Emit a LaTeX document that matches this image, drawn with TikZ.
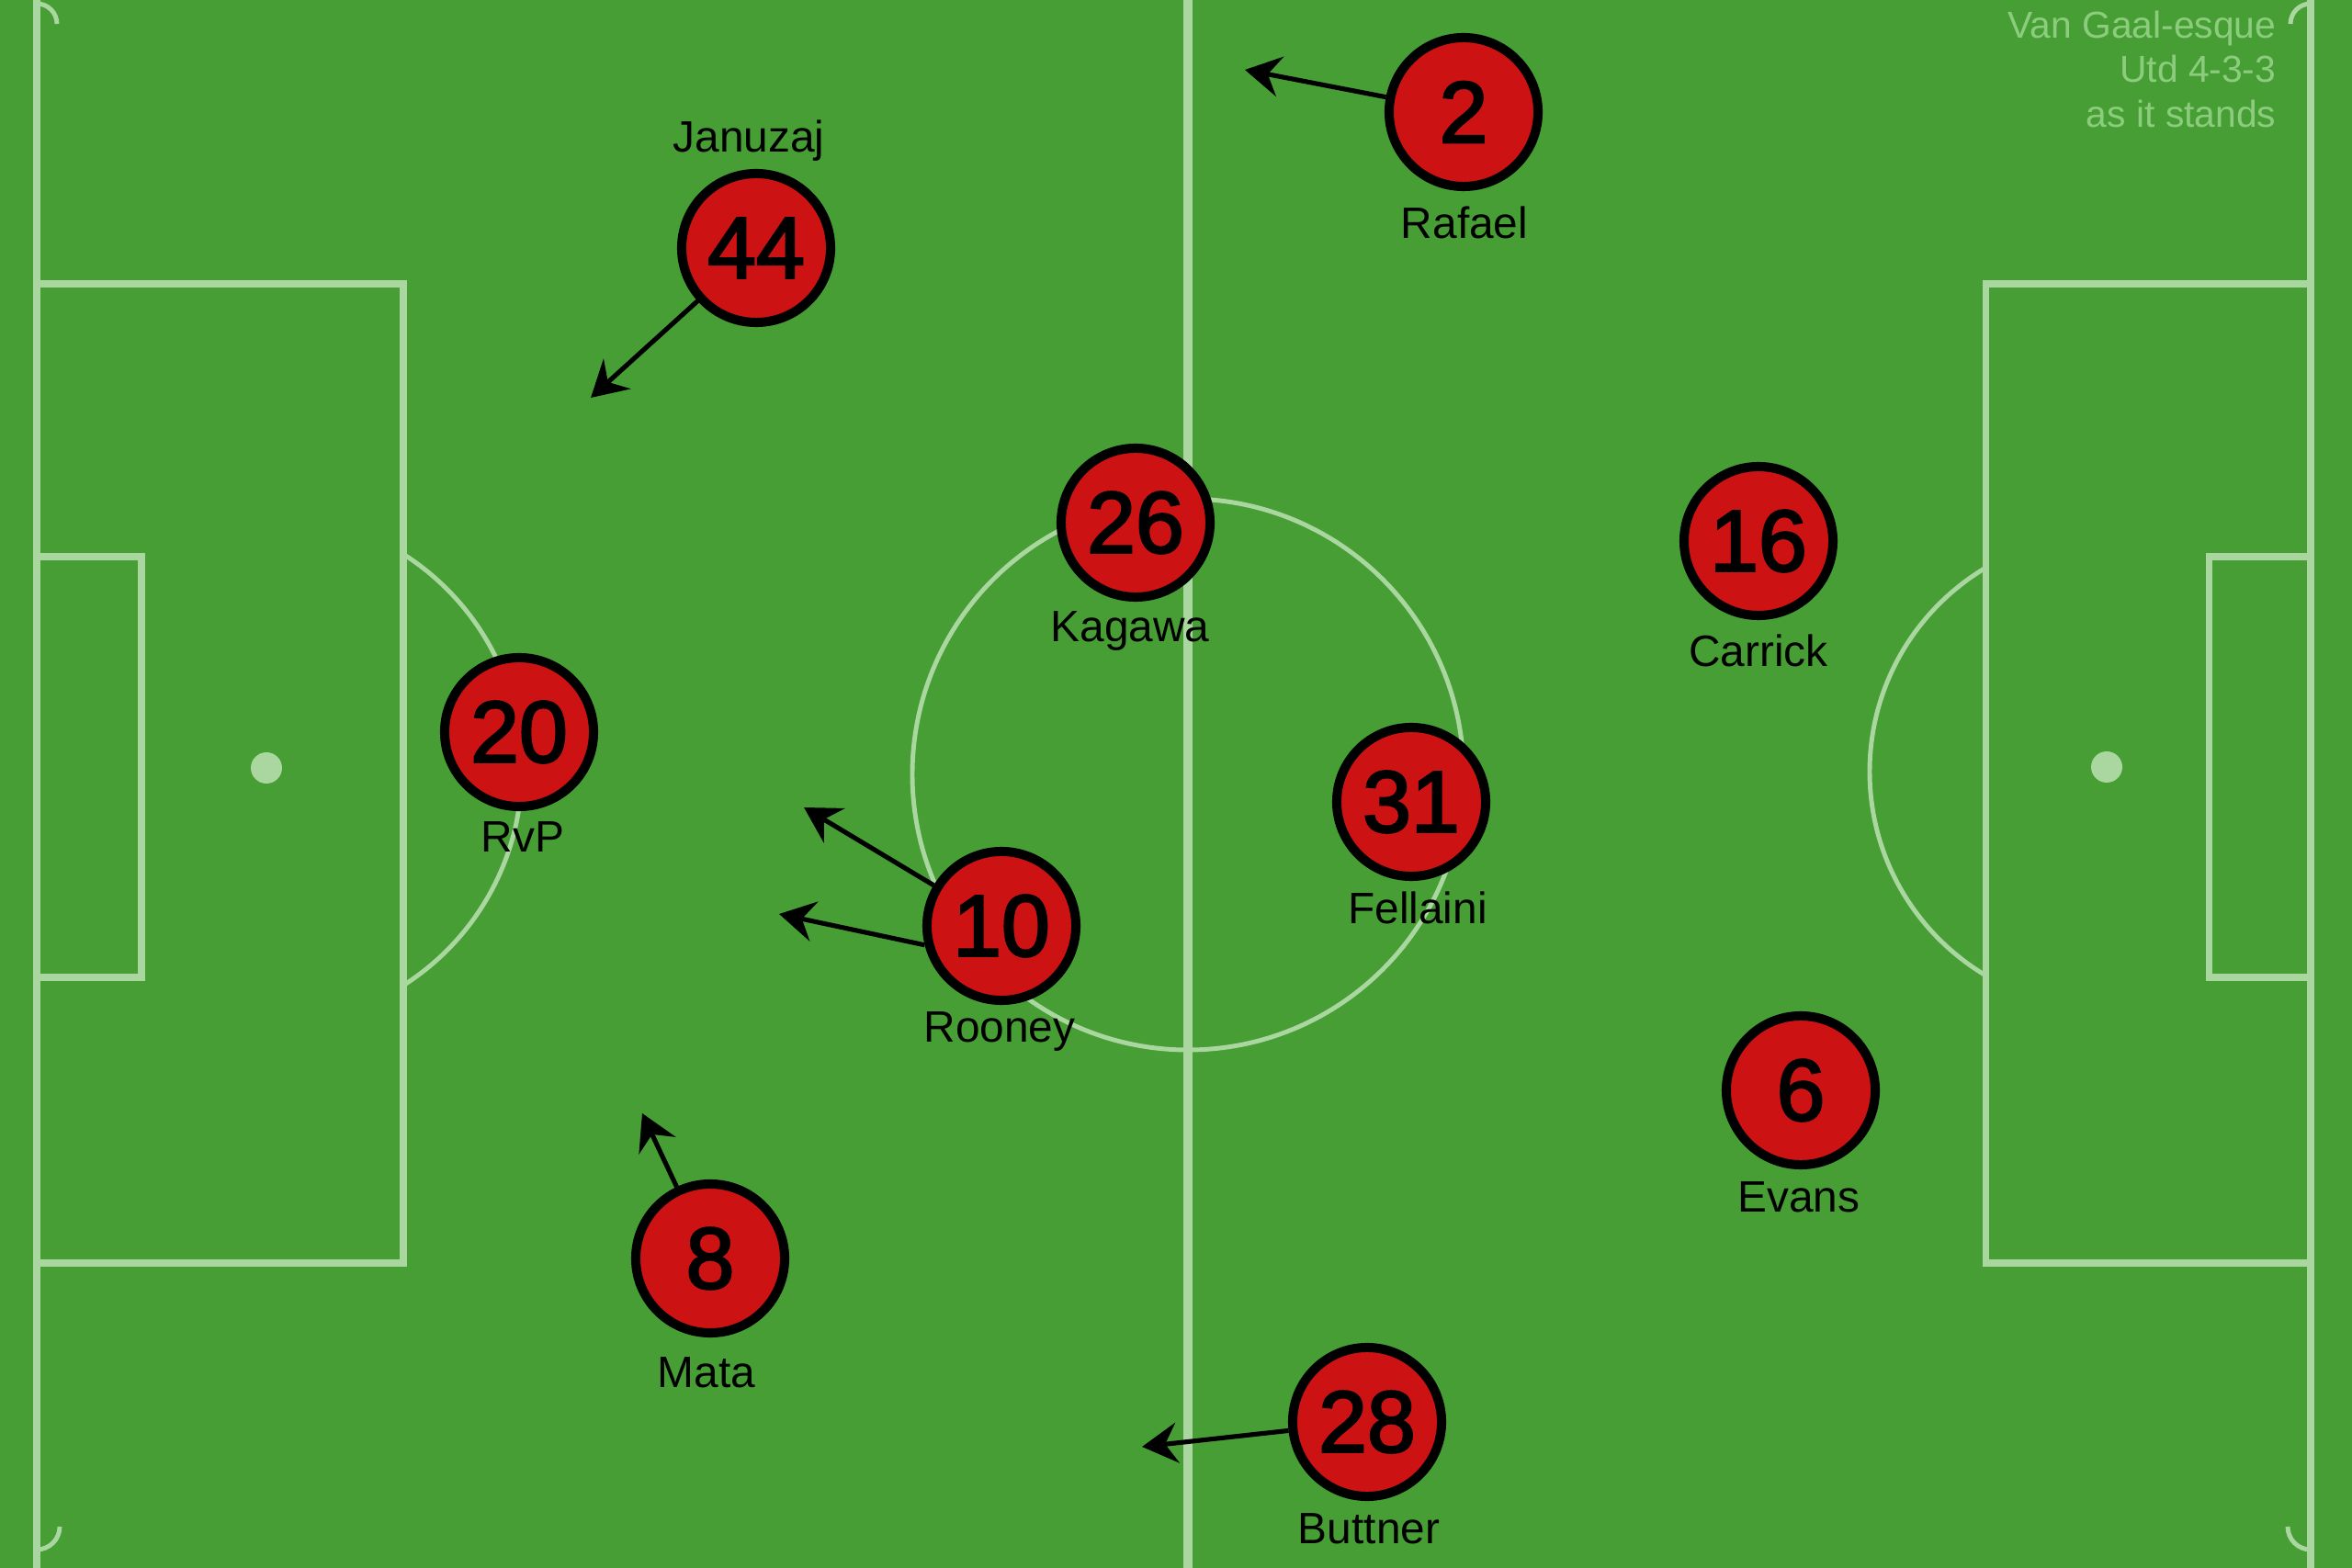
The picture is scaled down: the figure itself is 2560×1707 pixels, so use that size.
\documentclass[tikz,border=0pt]{standalone}
\usepackage{fontspec}
\setmainfont{Liberation Sans}
\newfontfamily\numfont[FakeBold=2.6]{Liberation Sans}
\usetikzlibrary{arrows.meta}
\definecolor{pitch}{RGB}{71,158,53}
\definecolor{pline}{RGB}{170,215,160}
\definecolor{shirt}{RGB}{205,18,20}
\definecolor{titlec}{RGB}{140,205,125}
\begin{document}
\begin{tikzpicture}[x=0.01cm,y=-0.01cm,
  player/.style={circle, draw=black, line width=2.85pt, fill=shirt, minimum size=1.62cm, inner sep=0pt,
    font=\fontsize{27}{27}\numfont},
  pname/.style={anchor=base, inner sep=0pt, text=black, font=\fontsize{13.6}{13.6}\selectfont},
  run/.style={-{Stealth[length=11pt,width=12.5pt,inset=3.8pt]}, line width=1.45pt, draw=black},
  chalk/.style={draw=pline, line width=2pt},
  thinchalk/.style={draw=pline, line width=1.4pt},
]
\fill[pitch] (0,0) rectangle (2560,1707);
\clip (0,0) rectangle (2560,1707);

% pitch markings
\draw[chalk, line width=2.4pt] (40,-18) rectangle (2515,1712);
\draw[chalk, line width=3pt] (1293,-18) -- (1293,1712);
\draw[thinchalk] (1293,843) circle[radius=300];
\draw[chalk] (40,309) rectangle (439,1375);
\draw[chalk] (2161,309) rectangle (2515,1375);
\draw[chalk] (40,606) rectangle (154,1064);
\draw[chalk] (2404,606) rectangle (2515,1064);
\fill[pline] (290,836) circle[radius=17];
\fill[pline] (2293,835) circle[radius=17];
\begin{scope}
  \clip (439,0) rectangle (1200,1707);
  \draw[thinchalk] (290,838) circle[radius=278];
\end{scope}
\begin{scope}
  \clip (1300,0) rectangle (2161,1707);
  \draw[thinchalk] (2293,840) circle[radius=258];
\end{scope}
\draw[thinchalk] (40,4) arc[start angle=-90, end angle=0, radius=22];
\draw[thinchalk] (40,1687) arc[start angle=90, end angle=0, radius=25];
\draw[thinchalk] (2515,4) arc[start angle=-90, end angle=-180, radius=22];
\draw[thinchalk] (2515,1687) arc[start angle=90, end angle=180, radius=25];

% title
\node[anchor=north east, inner sep=0pt, align=right, text=titlec,
  font=\fontsize{11.6}{13.8}\selectfont] (title) at (2478,11)
  {Van Gaal-esque\\Utd 4-3-3\\as it stands};

% players
\node[player] (p2)  at (1593,122)  {2};
\node[player] (p44) at (823,270)   {44};
\node[player] (p26) at (1236,569)  {26};
\node[player] (p16) at (1914,589)  {16};
\node[player] (p20) at (565,797)   {20};
\node[player] (p31) at (1536,873)  {31};
\node[player] (p10) at (1090,1008) {10};
\node[player] (p6)  at (1960,1187) {6};
\node[player] (p8)  at (773,1370)  {8};
\node[player] (p28) at (1488,1548) {28};

% names
\node[pname] (n2)  at (1594,260)  {Rafael};
\node[pname] (n44) at (815,166)   {Januzaj};
\node[pname] (n26) at (1230,699)  {Kagawa};
\node[pname] (n16) at (1914,726)  {Carrick};
\node[pname] (n20) at (569,928)   {RvP};
\node[pname] (n31) at (1543,1006) {Fellaini};
\node[pname] (n10) at (1088,1135) {Rooney};
\node[pname] (n6)  at (1958,1319) {Evans};
\node[pname] (n8)  at (769,1510)  {Mata};
\node[pname] (n28) at (1490,1680) {Buttner};

% runs
\coordinate (t2)  at (1355,76);
\coordinate (t44) at (643,433);
\coordinate (t10a) at (875,879);
\coordinate (t10b) at (848,995);
\coordinate (t8)  at (699,1212);
\coordinate (t28) at (1243,1575);
\draw[run] (p2) -- (t2);
\draw[run] (p44) -- (t44);
\draw[run] (p10) -- (t10a);
\draw[run] (p10.194) -- (t10b);
\draw[run] (p8) -- (t8);
\draw[run] (p28) -- (t28);
\end{tikzpicture}
\end{document}
